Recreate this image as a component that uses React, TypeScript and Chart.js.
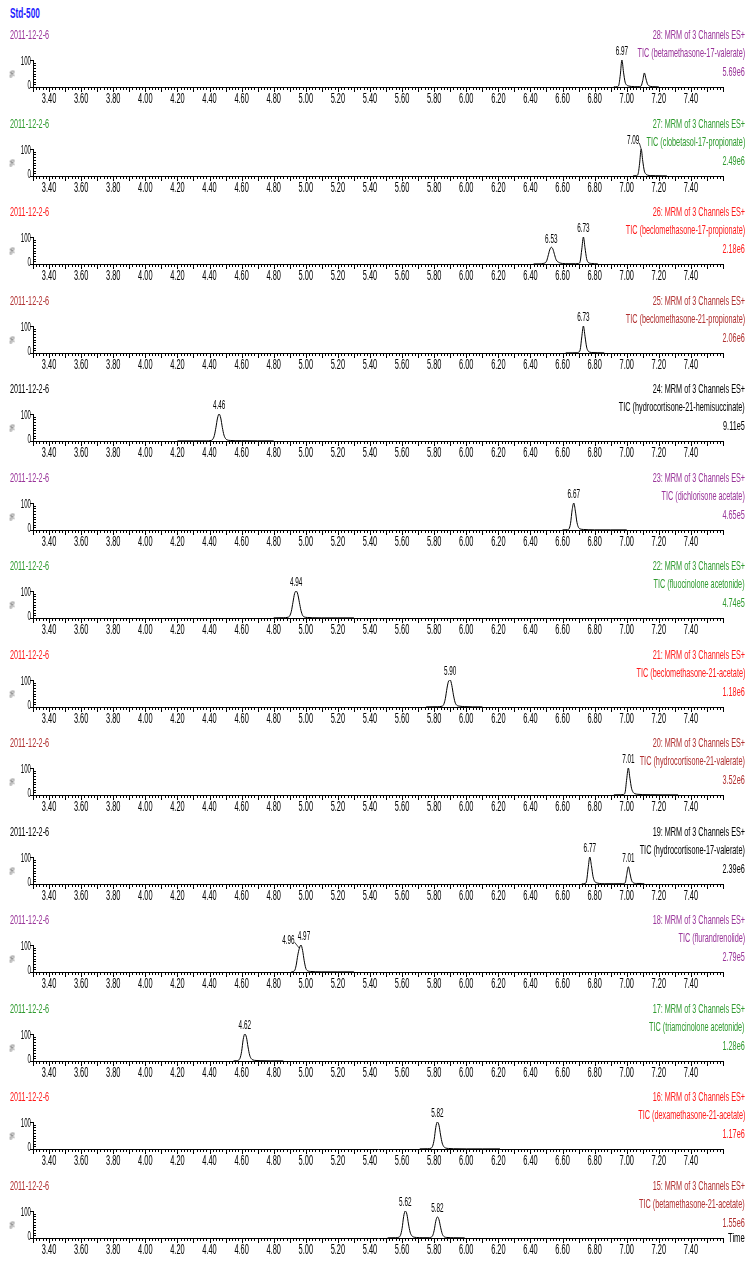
import React, { useEffect, useRef } from 'react';
import { Chart, registerables } from 'chart.js';

Chart.register(...registerables);

// ---------------- DATA ----------------
const sampleName = 'Std-500';
const dateLabel = '2011-12-2-6';
const channelText = 'MRM of 3 Channels ES+';
const functionNumbers = ['28', '27', '26', '25', '24', '23', '22', '21', '20', '19', '18', '17', '16', '15'];
const compounds = [
  'betamethasone-17-valerate',
  'clobetasol-17-propionate',
  'beclomethasone-17-propionate',
  'beclomethasone-21-propionate',
  'hydrocortisone-21-hemisuccinate',
  'dichlorisone acetate',
  'fluocinolone acetonide',
  'beclomethasone-21-acetate',
  'hydrocortisone-21-valerate',
  'hydrocortisone-17-valerate',
  'flurandrenolide',
  'triamcinolone acetonide',
  'dexamethasone-21-acetate',
  'betamethasone-21-acetate',
];
const intensities = ['5.69e6', '2.49e6', '2.18e6', '2.06e6', '9.11e5', '4.65e5', '4.74e5', '1.18e6', '3.52e6', '2.39e6', '2.79e5', '1.28e6', '1.17e6', '1.55e6'];

const xTickLabels = ['3.40', '3.60', '3.80', '4.00', '4.20', '4.40', '4.60', '4.80', '5.00', '5.20', '5.40', '5.60', '5.80', '6.00', '6.20', '6.40', '6.60', '6.80', '7.00', '7.20', '7.40'];
const yTickLabels = ['0', '100'];
const xAxisTitle = 'Time';
const yAxisTitle = '%';

// retention times / relative response (%) for each trace
const t28 = [6.92, 6.93, 6.94, 6.95, 6.96, 6.97, 6.98, 6.99, 7.00, 7.01, 7.03, 7.05, 7.07, 7.08, 7.09, 7.10, 7.11, 7.12, 7.13, 7.14, 7.15, 7.17, 7.20];
const r28 = [0.5, 0.5, 1, 6, 45, 100, 55, 18, 7, 4, 2, 1, 1, 1.5, 4, 24, 52, 30, 10, 4, 2, 1, 0.5];
const t27 = [7.04, 7.06, 7.07, 7.08, 7.09, 7.10, 7.11, 7.12, 7.13, 7.15, 7.18, 7.22, 7.25];
const r27 = [0.5, 1, 6, 45, 100, 55, 18, 7, 3, 1.5, 1, 0.5, 0.5];
const t26 = [6.42, 6.46, 6.48, 6.50, 6.51, 6.52, 6.53, 6.54, 6.55, 6.56, 6.58, 6.60, 6.64, 6.68, 6.70, 6.71, 6.72, 6.73, 6.74, 6.75, 6.76, 6.78, 6.82];
const r26 = [0.5, 0.5, 2, 10, 30, 52, 62, 55, 35, 16, 5, 2, 1, 1, 2, 10, 55, 100, 60, 20, 6, 2, 0.5];
const t25 = [6.62, 6.66, 6.69, 6.70, 6.71, 6.72, 6.73, 6.74, 6.75, 6.76, 6.77, 6.79, 6.82, 6.86];
const r25 = [0.5, 0.5, 1, 3, 12, 60, 100, 62, 22, 7, 3, 1.5, 1, 0.5];
const t24 = [4.20, 4.30, 4.38, 4.41, 4.42, 4.43, 4.44, 4.45, 4.46, 4.47, 4.48, 4.49, 4.50, 4.51, 4.53, 4.56, 4.60, 4.70, 4.80];
const r24 = [0.5, 0.5, 0.5, 2, 6, 20, 50, 85, 100, 85, 50, 22, 9, 4, 2, 1, 1, 0.5, 0.5];
const t23 = [6.60, 6.63, 6.64, 6.65, 6.66, 6.67, 6.68, 6.69, 6.70, 6.71, 6.73, 6.76, 6.80, 6.90, 7.00];
const r23 = [0.5, 1, 4, 25, 75, 100, 70, 28, 9, 4, 2, 1, 0.5, 0.5, 0.5];
const t22 = [4.80, 4.86, 4.89, 4.90, 4.91, 4.92, 4.93, 4.94, 4.95, 4.96, 4.97, 4.98, 4.99, 5.01, 5.04, 5.10, 5.20, 5.30];
const r22 = [0.5, 1, 3, 8, 25, 58, 90, 100, 88, 58, 28, 10, 4, 2, 1, 0.5, 0.5, 0.5];
const t21 = [5.75, 5.82, 5.85, 5.86, 5.87, 5.88, 5.89, 5.90, 5.91, 5.92, 5.93, 5.94, 5.96, 5.99, 6.04, 6.10];
const r21 = [0.5, 1, 3, 10, 32, 70, 96, 100, 80, 45, 18, 7, 3, 1.5, 0.5, 0.5];
const t20 = [6.92, 6.96, 6.98, 6.99, 7.00, 7.01, 7.02, 7.03, 7.04, 7.05, 7.07, 7.10, 7.15, 7.22, 7.32];
const r20 = [0.5, 1, 2, 10, 60, 100, 62, 25, 10, 5, 2.5, 1.5, 1, 0.5, 0.5];
const t19 = [6.72, 6.74, 6.75, 6.76, 6.77, 6.78, 6.79, 6.80, 6.81, 6.83, 6.86, 6.92, 6.97, 6.99, 7.00, 7.01, 7.02, 7.03, 7.04, 7.06, 7.09, 7.11];
const r19 = [0.5, 1.5, 12, 60, 100, 68, 28, 10, 5, 2, 1, 1, 1, 4, 35, 64, 40, 14, 5, 2, 2, 0.5];
const t18 = [4.91, 4.93, 4.94, 4.95, 4.96, 4.97, 4.98, 4.99, 5.00, 5.01, 5.03, 5.06, 5.10, 5.20, 5.30];
const r18 = [0.5, 5, 25, 62, 88, 100, 80, 42, 14, 5, 2, 1, 0.5, 0.5, 0.5];
const t17 = [4.55, 4.57, 4.58, 4.59, 4.60, 4.61, 4.62, 4.63, 4.64, 4.65, 4.66, 4.67, 4.69, 4.72, 4.78, 4.86];
const r17 = [0.5, 1, 3, 10, 35, 80, 100, 88, 52, 22, 9, 4, 2, 1, 0.5, 0.5];
const t16 = [5.71, 5.76, 5.78, 5.79, 5.80, 5.81, 5.82, 5.83, 5.84, 5.85, 5.86, 5.87, 5.89, 5.92, 6.00, 6.10, 6.21];
const r16 = [0.5, 1, 3, 10, 35, 80, 100, 88, 52, 22, 9, 4, 2, 1, 0.5, 0.5, 0.5];
const t15 = [5.51, 5.56, 5.58, 5.59, 5.60, 5.61, 5.62, 5.63, 5.64, 5.65, 5.66, 5.67, 5.69, 5.73, 5.77, 5.78, 5.79, 5.80, 5.81, 5.82, 5.83, 5.84, 5.85, 5.86, 5.88, 5.92, 5.99];
const r15 = [0.5, 1, 3, 10, 35, 80, 100, 88, 52, 22, 9, 4, 2, 1, 1, 3, 8, 28, 62, 78, 68, 40, 16, 6, 2, 1, 0.5];

// labelled peak apexes (retention time)
const peaks28 = [6.97];
const peaks27 = [7.09];
const peaks26 = [6.53, 6.73];
const peaks25 = [6.73];
const peaks24 = [4.46];
const peaks23 = [6.67];
const peaks22 = [4.94];
const peaks21 = [5.90];
const peaks20 = [7.01];
const peaks19 = [6.77, 7.01];
const peaks18 = [4.96, 4.97];
const peaks17 = [4.62];
const peaks16 = [5.82];
const peaks15 = [5.62, 5.82];

const traceTimes = [t28, t27, t26, t25, t24, t23, t22, t21, t20, t19, t18, t17, t16, t15];
const traceResponses = [r28, r27, r26, r25, r24, r23, r22, r21, r20, r19, r18, r17, r16, r15];
const tracePeaks = [peaks28, peaks27, peaks26, peaks25, peaks24, peaks23, peaks22, peaks21, peaks20, peaks19, peaks18, peaks17, peaks16, peaks15];

// ---------------- STYLE ----------------
const SANS = '"Liberation Sans", Arial, "DejaVu Sans", sans-serif';
const HEAD_SQUEEZE = 0.56;
const TICK_SQUEEZE = 0.53;
const YTICK_SQUEEZE = 0.47;
const PURPLE = '#993399';
const GREEN = '#2e9a2e';
const RED = '#ff1a1a';
const DARKRED = '#b03030';
const BLACK = '#000000';
const panelColors = [PURPLE, GREEN, RED, DARKRED, BLACK, PURPLE, GREEN, RED, DARKRED, BLACK, PURPLE, GREEN, RED, DARKRED];
// label offsets (px) for crowded peak labels: key = panel index : time
const labelOffsets: Record<string, { dx: number; leader?: boolean }> = {
  '1:7.09': { dx: -8, leader: true },
  '10:4.96': { dx: -11, leader: true },
  '10:4.97': { dx: 3 },
};

const W = 749;
const PANEL_H = 88;
const FIRST_TOP = 28;
const STEP = 88.5;

function squeezedText(ctx: CanvasRenderingContext2D, text: string, x: number, y: number, align: 'center' | 'right', k: number) {
  ctx.save();
  ctx.translate(x, y);
  ctx.scale(k, 1);
  ctx.textAlign = align;
  ctx.fillText(text, 0, 0);
  ctx.restore();
}

const axisDecor = {
  id: 'axisDecor',
  afterDraw(chart: any) {
    const { ctx } = chart;
    const xs = chart.scales.x;
    const ys = chart.scales.y;
    ctx.save();
    ctx.strokeStyle = '#000';
    ctx.lineWidth = 1;
    ctx.beginPath();
    const base = Math.round(ys.bottom);
    xs.ticks.forEach((t: any) => {
      const px = Math.round(xs.getPixelForValue(t.value)) + 0.5;
      const h = Math.round(t.value * 100);
      const len = h % 10 === 0 ? 5 : 3;
      ctx.moveTo(px, base);
      ctx.lineTo(px, base + len);
    });
    const left = Math.round(xs.left);
    ys.ticks.forEach((t: any) => {
      const py = Math.round(ys.getPixelForValue(t.value)) + 0.5;
      if (t.value % 100 === 0) {
        ctx.moveTo(left - 3, py);
        ctx.lineTo(left + 1, py);
      } else {
        ctx.moveTo(left, py);
        ctx.lineTo(left + 3, py);
      }
    });
    ctx.stroke();
    // tick labels from the scales' own ticks
    ctx.fillStyle = '#000';
    ctx.font = `14px ${SANS}`;
    ctx.textBaseline = 'middle';
    xs.ticks.forEach((t: any) => {
      if (t.label) squeezedText(ctx, String(t.label), xs.getPixelForValue(t.value), base + 12.5, 'center', TICK_SQUEEZE);
    });
    ctx.font = `13px ${SANS}`;
    ys.ticks.forEach((t: any) => {
      if (t.label) {
        const py = ys.getPixelForValue(t.value);
        squeezedText(ctx, String(t.label), left - 2, t.value === 0 ? py - 2 : py + 1, 'right', YTICK_SQUEEZE);
      }
    });
    ctx.restore();
  },
};

function makePeakLabelPlugin(panelIndex: number, peaks: number[]) {
  return {
    id: 'peakLabels' + panelIndex,
    afterDatasetsDraw(chart: any) {
      const { ctx } = chart;
      const xs = chart.scales.x;
      const ys = chart.scales.y;
      const data = chart.data.datasets[0].data as { x: number; y: number }[];
      ctx.save();
      ctx.fillStyle = '#000';
      ctx.strokeStyle = '#111';
      ctx.lineWidth = 0.8;
      ctx.font = `12px ${SANS}`;
      ctx.textBaseline = 'middle';
      peaks.forEach((t) => {
        const pt = data.find((d) => Math.abs(d.x - t) < 1e-6);
        const px = xs.getPixelForValue(t);
        const py = ys.getPixelForValue(pt ? pt.y : 100);
        const off = labelOffsets[`${panelIndex}:${t.toFixed(2)}`] || { dx: 0 };
        const text = t.toFixed(2);
        const tx = px + off.dx;
        const ty = py - 8;
        squeezedText(ctx, text, tx, ty, 'center', TICK_SQUEEZE);
        if (off.leader) {
          const w = ctx.measureText(text).width * TICK_SQUEEZE;
          ctx.beginPath();
          ctx.moveTo(tx + w / 2, ty + 2);
          ctx.lineTo(px, py);
          ctx.stroke();
        }
      });
      ctx.restore();
    },
  };
}

function Panel({ index }: { index: number }) {
  const ref = useRef<HTMLCanvasElement>(null);
  const top = Math.round(FIRST_TOP + index * STEP);
  const color = panelColors[index];

  useEffect(() => {
    const times = traceTimes[index];
    const resp = traceResponses[index];
    const chart = new Chart(ref.current as HTMLCanvasElement, {
      type: 'line',
      data: {
        datasets: [
          {
            data: times.map((x, i) => ({ x, y: resp[i] })),
            borderColor: '#000',
            borderWidth: 1,
            pointRadius: 0,
            fill: false,
            cubicInterpolationMode: 'monotone',
          },
        ],
      },
      options: {
        animation: false,
        responsive: false,
        maintainAspectRatio: false,
        events: [],
        layout: { padding: { top: 32, right: 26, left: 0, bottom: 0 } },
        plugins: { legend: { display: false }, tooltip: { enabled: false }, title: { display: false } },
        scales: {
          x: {
            type: 'linear',
            min: 3.3,
            max: 7.6,
            grid: { display: false, drawTicks: false },
            border: { display: true, color: '#000', width: 1 },
            ticks: {
              display: false,
              stepSize: 0.02,
              autoSkip: false,
              maxRotation: 0,
              callback: (v: any) => {
                const s = Number(v).toFixed(2);
                return xTickLabels.includes(s) ? s : '';
              },
            },
            afterFit: (s: any) => {
              s.height = 29;
            },
          },
          y: {
            type: 'linear',
            min: 0,
            max: 100,
            grid: { display: false, drawTicks: false },
            border: { display: true, color: '#000', width: 1 },
            ticks: {
              display: false,
              stepSize: 10,
              autoSkip: false,
              callback: (v: any) => {
                const s = String(Math.round(Number(v)));
                return yTickLabels.includes(s) ? s : '';
              },
            },
            afterFit: (s: any) => {
              s.width = 33;
            },
          },
        },
      } as any,
      plugins: [axisDecor, makePeakLabelPlugin(index, tracePeaks[index])],
    });
    return () => chart.destroy();
  }, [index]);

  const textBase: React.CSSProperties = {
    position: 'absolute',
    fontFamily: SANS,
    fontSize: 13,
    lineHeight: '14px',
    whiteSpace: 'nowrap',
    color,
  };
  const rightLine = (y: number): React.CSSProperties => ({
    ...textBase,
    right: 4,
    top: y - 7,
    transform: `scaleX(${HEAD_SQUEEZE})`,
    transformOrigin: 'right center',
  });

  return (
    <div style={{ position: 'absolute', left: 0, top, width: W, height: PANEL_H }}>
      <canvas ref={ref} width={W} height={PANEL_H} style={{ position: 'absolute', left: 0, top: 0, width: W, height: PANEL_H }} />
      <div style={{ ...textBase, left: 10, top: 0, transform: `scaleX(${HEAD_SQUEEZE})`, transformOrigin: 'left center' }}>{dateLabel}</div>
      <div style={rightLine(7)}>{`${functionNumbers[index]}: ${channelText}`}</div>
      <div style={rightLine(24.5)}>{`TIC (${compounds[index]})`}</div>
      <div style={rightLine(43.5)}>{intensities[index]}</div>
      <div
        style={{
          position: 'absolute',
          left: 9,
          top: 42,
          fontFamily: SANS,
          fontSize: 8,
          lineHeight: '8px',
          color: '#333',
          transform: 'rotate(-90deg)',
        }}
      >
        {yAxisTitle}
      </div>
      {index === functionNumbers.length - 1 && (
        <div
          style={{
            position: 'absolute',
            left: 728,
            top: 59 - 7.5,
            fontFamily: SANS,
            fontSize: 13,
            lineHeight: '14px',
            color: '#000',
            transform: 'scaleX(0.59)',
            transformOrigin: 'left center',
          }}
        >
          {xAxisTitle}
        </div>
      )}
    </div>
  );
}

export default function App() {
  useEffect(() => {
    document.body.style.margin = '0';
  }, []);
  return (
    <div style={{ position: 'relative', width: W, height: 1266, overflow: 'hidden', background: '#fff' }}>
      <div
        style={{
          position: 'absolute',
          left: 10,
          top: 5,
          fontFamily: SANS,
          fontWeight: 'bold',
          fontSize: 15,
          lineHeight: '16px',
          color: '#1e1eff',
          transform: 'scaleX(0.55)',
          transformOrigin: 'left center',
        }}
      >
        {sampleName}
      </div>
      {functionNumbers.map((_, i) => (
        <Panel key={i} index={i} />
      ))}
    </div>
  );
}
